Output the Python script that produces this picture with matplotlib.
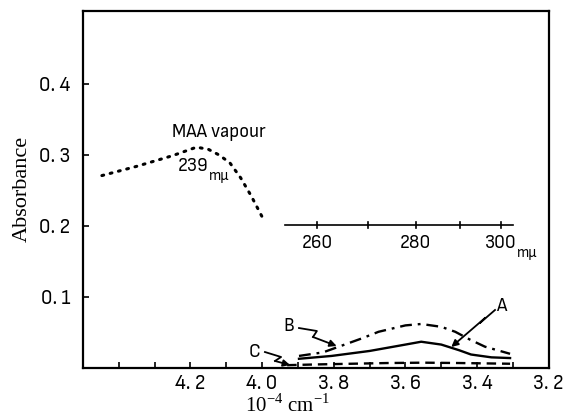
import numpy as np
import matplotlib
matplotlib.use('Agg')
import matplotlib.pyplot as plt

# wavenumber in 10^4 cm^-1, absorbance
maa_x = [4.447, 4.35, 4.25, 4.183, 4.15, 4.12, 4.09, 4.06, 4.03, 4.0]
maa_y = [0.271, 0.284, 0.299, 0.311, 0.308, 0.300, 0.289, 0.268, 0.242, 0.213]

a_x = [3.897, 3.806, 3.70, 3.60, 3.556, 3.50, 3.45, 3.417, 3.36, 3.308]
a_y = [0.013, 0.017, 0.024, 0.033, 0.037, 0.033, 0.025, 0.019, 0.015, 0.014]

b_x = [3.897, 3.83, 3.786, 3.72, 3.675, 3.60, 3.556, 3.50, 3.461, 3.42, 3.378, 3.308]
b_y = [0.017, 0.022, 0.030, 0.042, 0.051, 0.060, 0.062, 0.058, 0.051, 0.040, 0.030, 0.020]

c_x = [3.93, 3.85, 3.75, 3.65, 3.55, 3.45, 3.308]
c_y = [0.004, 0.005, 0.006, 0.007, 0.0075, 0.007, 0.006]

xticks = [4.4, 4.3, 4.2, 4.1, 4.0, 3.9, 3.8, 3.7, 3.6, 3.5, 3.4, 3.3, 3.2]
xlabels = ['', '', '4. 2', '', '4. 0', '', '3. 8', '', '3. 6', '', '3. 4', '', '3. 2']
yticks = [0.1, 0.2, 0.3, 0.4]
ylabels = ['0. 1', '0. 2', '0. 3', '0. 4']

# wavelength scale (m-mu) drawn inside the plot
nm_ticks = [260, 270, 280, 290, 300]
nm_labels = {260: '260', 280: '280', 300: '300'}
nm_range = [254, 303]
nm_level = 0.201

sans = ['Sofia Sans Semi Condensed', 'DejaVu Sans']
serif = ['Liberation Serif', 'DejaVu Serif']
plt.rcParams['mathtext.fontset'] = 'custom'
plt.rcParams['mathtext.rm'] = 'Liberation Serif'

fig = plt.figure(figsize=(5.64, 4.17), dpi=100)
ax = fig.add_axes([0.147, 0.1175, 0.826, 0.8565])

ax.plot(maa_x, maa_y, color='black', lw=2.2, linestyle=(0, (0.6, 2.2)),
        dash_capstyle='round')
ax.plot(a_x, a_y, color='black', lw=1.7)
ax.plot(b_x, b_y, color='black', lw=1.7, linestyle=(0, (5, 2.5, 1.2, 2.5)))
ax.plot(c_x, c_y, color='black', lw=1.7, linestyle=(0, (4, 2.5)))


def sub(t, s):
    # small "m mu" subscript glued to the right of a text
    ax.annotate(s, xy=(1.0, 0.3), xycoords=t, ha='left', va='top',
                fontsize=11, family=sans)


# wavelength axis
wn = lambda nm: 1000.0 / np.array(nm, dtype=float)
ax.plot(wn(nm_range), [nm_level, nm_level], color='black', lw=1.2)
for nm in nm_ticks:
    ax.plot([wn(nm), wn(nm)], [nm_level - 0.004, nm_level + 0.004],
            color='black', lw=1.2)
    if nm in nm_labels:
        t = ax.text(wn(nm), nm_level - 0.012, nm_labels[nm], ha='center',
                    va='top', fontsize=14, family=sans)
sub(t, 'mμ')

ax.text(4.122, 0.333, 'MAA vapour', ha='center', va='center', fontsize=14,
        family=sans)
t = ax.text(4.235, 0.278, '239', ha='left', va='baseline', fontsize=14,
            family=sans)
sub(t, 'mμ')

# labels with wavy arrows
def wavy(px, py, label, lx, ly):
    ax.plot(px[:-1], py[:-1], color='black', lw=1.3)
    ax.annotate('', xy=(px[-1], py[-1]), xytext=(px[-2], py[-2]),
                arrowprops=dict(arrowstyle='-|>', color='black', lw=1.3,
                                mutation_scale=10, shrinkA=0, shrinkB=0))
    ax.text(lx, ly, label, ha='center', va='center', fontsize=14, family=sans)

wavy([3.897, 3.847, 3.858, 3.792], [0.0563, 0.0521, 0.0437, 0.031], 'B', 3.925, 0.059)
wavy([3.350, 3.392, 3.378, 3.472], [0.0817, 0.0634, 0.0704, 0.0296], 'A', 3.333, 0.0875)
wavy([3.992, 3.947, 3.964, 3.922], [0.0225, 0.0155, 0.0099, 0.0042], 'C', 4.022, 0.0225)

ax.set_xlim(4.5, 3.2)
ax.set_ylim(0, 0.503)
ax.set_xticks(xticks)
ax.set_xticklabels(xlabels, family=sans, fontsize=15)
ax.set_yticks(yticks)
ax.set_yticklabels(ylabels, family=sans, fontsize=15)
ax.tick_params(direction='in', length=4, width=1.2)
ax.tick_params(axis='y', pad=9)
ax.tick_params(axis='x', pad=4)

for s in ax.spines.values():
    s.set_linewidth(1.6)

ax.set_ylabel('Absorbance', family=serif, fontsize=16, labelpad=5)
ax.set_xlabel('10$^{-4}$ cm$^{-1}$', family=serif, fontsize=15)
ax.xaxis.set_label_coords(0.44, -0.072)

fig.savefig('out.png', dpi=100)
